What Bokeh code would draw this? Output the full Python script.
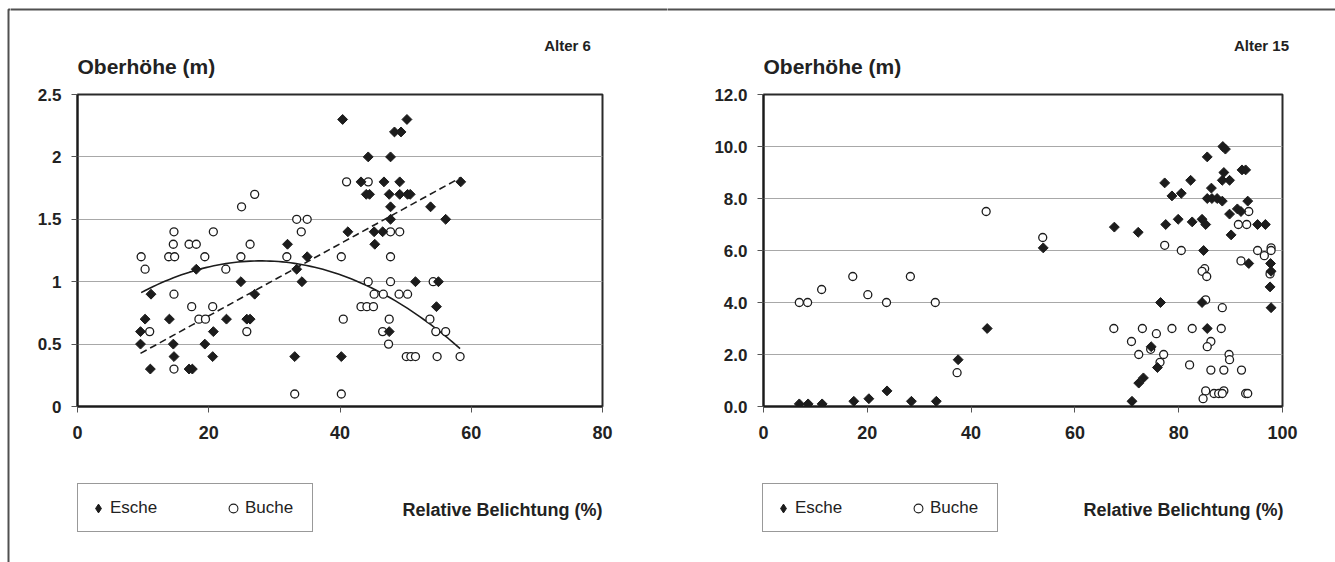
import numpy as np
from bokeh.plotting import figure
from bokeh.models import (ColumnDataSource, Range1d, FixedTicker, Legend, LegendItem,
                          Label, BoxAnnotation)
from bokeh.layouts import row, column
from bokeh.embed import file_html
from bokeh.resources import INLINE

FONT = "Liberation Sans"

# ---------------- data: Alter 6 ----------------
a6_esche_x = [9.6, 9.6, 10.3, 11.2, 11.1, 14.0, 14.6, 14.7, 17.0, 17.5, 18.1, 19.4, 20.7, 20.6, 22.7,
              24.9, 25.8, 26.3, 27.0, 32.0, 33.4, 34.2, 35.0, 33.1,
              40.4, 50.2, 48.3, 49.3, 44.3, 47.7, 43.2, 46.7, 49.1, 58.4, 44.0, 44.5, 47.5, 49.1, 50.3,
              50.7, 47.7, 53.8, 47.7, 56.1, 41.2, 45.2, 46.5, 45.3, 51.5, 55.0, 54.7, 47.5, 40.2]
a6_esche_y = [0.5, 0.6, 0.7, 0.9, 0.3, 0.7, 0.5, 0.4, 0.3, 0.3, 1.1, 0.5, 0.6, 0.4, 0.7,
              1.0, 0.7, 0.7, 0.9, 1.3, 1.1, 1.0, 1.2, 0.4,
              2.3, 2.3, 2.2, 2.2, 2.0, 2.0, 1.8, 1.8, 1.8, 1.8, 1.7, 1.7, 1.7, 1.7, 1.7,
              1.7, 1.6, 1.6, 1.5, 1.5, 1.4, 1.4, 1.4, 1.3, 1.0, 1.0, 0.8, 0.6, 0.4]
a6_buche_x = [9.7, 10.3, 11.0, 14.7, 14.6, 13.9, 14.8, 14.7, 14.7, 17.0, 18.1, 17.4, 18.5, 19.5, 19.4,
              20.6, 20.7, 22.6, 25.0, 24.9, 26.3, 27.0, 25.8, 31.9, 33.4, 35.0, 34.1, 33.1,
              41.0, 44.3, 47.7, 49.1, 40.2, 47.7, 44.3, 47.7, 54.2, 45.2, 46.6, 49.0, 50.3, 43.2,
              44.1, 45.1, 40.5, 47.5, 53.7, 46.5, 54.6, 56.1, 47.4, 50.1, 50.8, 51.5, 54.8, 58.3, 40.2]
a6_buche_y = [1.2, 1.1, 0.6, 1.4, 1.3, 1.2, 1.2, 0.9, 0.3, 1.3, 1.3, 0.8, 0.7, 0.7, 1.2,
              0.8, 1.4, 1.1, 1.6, 1.2, 1.3, 1.7, 0.6, 1.2, 1.5, 1.5, 1.4, 0.1,
              1.8, 1.8, 1.4, 1.4, 1.2, 1.2, 1.0, 1.0, 1.0, 0.9, 0.9, 0.9, 0.9, 0.8,
              0.8, 0.8, 0.7, 0.7, 0.7, 0.6, 0.6, 0.6, 0.5, 0.4, 0.4, 0.4, 0.4, 0.4, 0.1]

# ---------------- data: Alter 15 ----------------
a15_esche_x = [6.9, 8.6, 11.3, 17.4, 20.3, 23.8, 28.5, 33.3, 37.5, 43.1, 53.9,
               88.5, 89.0, 85.5, 92.2, 92.9, 88.7, 77.3, 82.3, 88.4, 89.8, 86.3, 78.7, 80.5,
               85.5, 86.4, 87.4, 88.4, 93.3, 91.3, 92.0, 89.8, 84.5, 85.2, 82.6, 79.9, 77.5,
               67.6, 72.2, 95.2, 96.7, 90.1, 84.8, 93.5, 97.7, 97.8, 97.6, 97.8, 76.5, 84.5,
               85.5, 74.7, 75.9, 73.2, 72.3, 71.0]
a15_esche_y = [0.1, 0.1, 0.1, 0.2, 0.3, 0.6, 0.2, 0.2, 1.8, 3.0, 6.1,
               10.0, 9.9, 9.6, 9.1, 9.1, 9.0, 8.6, 8.7, 8.7, 8.7, 8.4, 8.1, 8.2,
               8.0, 8.0, 8.0, 7.9, 7.9, 7.6, 7.5, 7.4, 7.2, 7.0, 7.1, 7.2, 7.0,
               6.9, 6.7, 7.0, 7.0, 6.6, 6.0, 5.5, 5.5, 5.2, 4.6, 3.8, 4.0, 4.0,
               3.0, 2.3, 1.5, 1.1, 0.9, 0.2]
a15_buche_x = [6.9, 8.5, 11.2, 17.2, 20.1, 23.7, 28.3, 33.1, 37.3, 42.9, 53.8,
               93.5, 91.5, 93.1, 77.3, 80.5, 95.2, 96.5, 97.8, 97.8, 92.0, 97.6, 85.0, 84.5,
               85.4, 85.2, 88.4, 67.5, 73.0, 75.7, 78.7, 82.6, 88.2, 70.9, 74.6, 72.3, 77.1,
               86.2, 85.5, 89.7, 89.8, 76.4, 82.1, 86.2, 88.7, 92.1, 85.2, 86.8, 87.7, 88.7,
               88.4, 84.7, 92.9, 93.3]
a15_buche_y = [4.0, 4.0, 4.5, 5.0, 4.3, 4.0, 5.0, 4.0, 1.3, 7.5, 6.5,
               7.5, 7.0, 7.0, 6.2, 6.0, 6.0, 5.8, 6.1, 6.0, 5.6, 5.1, 5.3, 5.2,
               5.0, 4.1, 3.8, 3.0, 3.0, 2.8, 3.0, 3.0, 3.0, 2.5, 2.2, 2.0, 2.0,
               2.5, 2.3, 2.0, 1.8, 1.7, 1.6, 1.4, 1.4, 1.4, 0.6, 0.5, 0.5, 0.6,
               0.5, 0.3, 0.5, 0.5]

a6_xticks = [0, 20, 40, 60, 80]
a6_yticks = [0, 0.5, 1, 1.5, 2, 2.5]
a6_ylabels = ["0", "0.5", "1", "1.5", "2", "2.5"]
a15_xticks = [0, 20, 40, 60, 80, 100]
a15_yticks = [0, 2, 4, 6, 8, 10, 12]
a15_ylabels = ["0.0", "2.0", "4.0", "6.0", "8.0", "10.0", "12.0"]

series_names = ["Esche", "Buche"]
y_title = "Oberhöhe (m)"
x_title = "Relative Belichtung (%)"

INK = "#1c1c1c"
TXT = "#222222"
FRAME = "#505050"

E_STYLE = dict(marker="square", angle=np.pi / 4, size=7, fill_color=INK, line_color=INK)
E_LEGEND = dict(marker="diamond", size=12, fill_color=INK, line_color=INK)
B_STYLE = dict(marker="circle", size=8, fill_color="white", line_color=INK, line_width=1.3)
B_LEGEND = dict(marker="circle", size=8, fill_color="white", line_color=INK, line_width=1.1)


def blank(width, height, x0, x1, y0, y1):
    """A helper canvas whose frame fills it; coordinates are page pixels."""
    f = figure(width=width, height=height, output_backend="svg", toolbar_location=None,
               x_range=Range1d(x0, x1), y_range=Range1d(y1, y0),
               min_border=0, min_border_left=0, min_border_right=0,
               min_border_top=0, min_border_bottom=0,
               x_axis_type=None, y_axis_type=None)
    f.grid.visible = False
    f.outline_line_color = None
    f.background_fill_color = "white"
    f.border_fill_color = "white"
    return f


def make_plot(width, bl, br, xr, yr, xticks, yticks, ylabels, src_e, src_b, trend):
    p = figure(width=width, height=400, output_backend="svg", toolbar_location=None,
               x_range=Range1d(*xr), y_range=Range1d(*yr),
               min_border_left=bl, min_border_right=br, min_border_top=14, min_border_bottom=74)
    p.background_fill_color = "white"
    p.border_fill_color = "white"
    p.outline_line_color = "#2a2a2a"
    p.outline_line_width = 2
    p.xgrid.visible = False
    p.ygrid.grid_line_color = "#a8a8a8"
    p.ygrid.grid_line_width = 1
    p.ygrid.ticker = FixedTicker(ticks=yticks)
    for ax in (p.xaxis[0], p.yaxis[0]):
        ax.axis_line_color = "#1a1a1a"
        ax.axis_line_width = 2
        ax.major_tick_line_color = "#555555"
        ax.major_tick_in = 0
        ax.major_tick_out = 6
        ax.minor_tick_line_color = None
        ax.major_label_text_font = FONT
        ax.major_label_text_font_style = "bold"
        ax.major_label_text_color = TXT
    p.xaxis.ticker = FixedTicker(ticks=xticks)
    p.yaxis.ticker = FixedTicker(ticks=yticks)
    p.xaxis.major_label_text_font_size = "18px"
    p.yaxis.major_label_text_font_size = "17px"
    p.xaxis.major_label_standoff = 13
    p.yaxis.major_label_standoff = 10
    p.yaxis.major_label_overrides = {t: l for t, l in zip(yticks, ylabels)}

    ex, ey = src_e.data["x"], src_e.data["y"]
    bx, by = src_b.data["x"], src_b.data["y"]
    if trend:  # Excel-style trend lines fitted to the data
        xs = np.linspace(min(ex), max(ex), 50)
        ce = np.polyfit(ex, ey, 1)
        p.line(xs, np.polyval(ce, xs), line_color=INK, line_width=1.6, line_dash="7 4")
        xb = np.linspace(min(bx), max(bx), 80)
        cb = np.polyfit(bx, by, 2)
        p.line(xb, np.polyval(cb, xb), line_color=INK, line_width=1.6)

    p.scatter("x", "y", source=src_b, **B_STYLE)
    p.scatter("x", "y", source=src_e, **E_STYLE)
    return p


def make_bottom(width, x0, x1, legend_left, label_right, src_e, src_b):
    # the series' sources are reused only so the legend can draw its glyphs;
    # their points fall outside this strip's ranges and are not visible here
    q = blank(width, 82, x0, x1, 480, 562)
    r_e = q.scatter("x", "y", source=src_e, **E_LEGEND)
    r_b = q.scatter("x", "y", source=src_b, **B_LEGEND)
    legend = Legend(items=[LegendItem(label=series_names[0], renderers=[r_e]),
                           LegendItem(label=series_names[1], renderers=[r_b])],
                    orientation="horizontal", location=(legend_left - x0, 562 - 532), margin=0,
                    padding=9, spacing=54, glyph_width=22, glyph_height=22,
                    label_standoff=1, label_width=58, label_height=29,
                    label_text_font=FONT, label_text_font_size="17px", label_text_color=TXT,
                    border_line_color="#333333", border_line_width=1.5,
                    background_fill_color="white", background_fill_alpha=1)
    q.add_layout(legend, "center")
    q.add_layout(Label(x=label_right, y=509, text=x_title, text_font=FONT,
                       text_font_style="bold", text_font_size="18px", text_align="right",
                       text_baseline="middle", text_color=TXT))
    return q


def make_top(width, x0, x1, title_left, age, age_center):
    t = blank(width, 80, x0, x1, 0, 80)
    t.add_layout(BoxAnnotation(left=-100, right=3000, top=9, bottom=500, fill_alpha=0,
                               line_color=FRAME, line_alpha=1, line_width=2))
    t.add_layout(Label(x=title_left, y=66, text=y_title, text_font=FONT,
                       text_font_style="bold", text_font_size="21px", text_align="left",
                       text_baseline="alphabetic", text_color=TXT))
    t.add_layout(Label(x=age_center, y=45, text=age, text_font=FONT,
                       text_font_style="bold", text_font_size="15px", text_align="center",
                       text_baseline="middle", text_color=TXT))
    return t


s6_e = ColumnDataSource(dict(x=a6_esche_x, y=a6_esche_y))
s6_b = ColumnDataSource(dict(x=a6_buche_x, y=a6_buche_y))
s15_e = ColumnDataSource(dict(x=a15_esche_x, y=a15_esche_y))
s15_b = ColumnDataSource(dict(x=a15_buche_x, y=a15_buche_y))

# left strip carrying the outer frame's left edge
strip = blank(10, 562, 0, 10, 0, 562)
strip.add_layout(BoxAnnotation(left=8, right=500, top=9, bottom=1000, fill_alpha=0,
                               line_color=FRAME, line_alpha=1, line_width=2))

t1 = make_top(657, 10, 667, 77, "Alter 6", 567)
t2 = make_top(668, 667, 1335, 763, "Alter 15", 1261)

p1 = make_plot(657, 67, 65, (0, 80), (0, 2.5), a6_xticks, a6_yticks, a6_ylabels,
               s6_e, s6_b, True)
p2 = make_plot(668, 96, 53, (0, 100), (0, 12), a15_xticks, a15_yticks, a15_ylabels,
               s15_e, s15_b, False)

q1 = make_bottom(657, 10, 667, 77, 602, s6_e, s6_b)
q2 = make_bottom(668, 667, 1335, 762, 1283, s15_e, s15_b)

layout = row(strip, column(row(t1, t2, spacing=0), row(p1, p2, spacing=0),
                           row(q1, q2, spacing=0), spacing=0), spacing=0)
open("out.html", "w").write(file_html(layout, INLINE))
